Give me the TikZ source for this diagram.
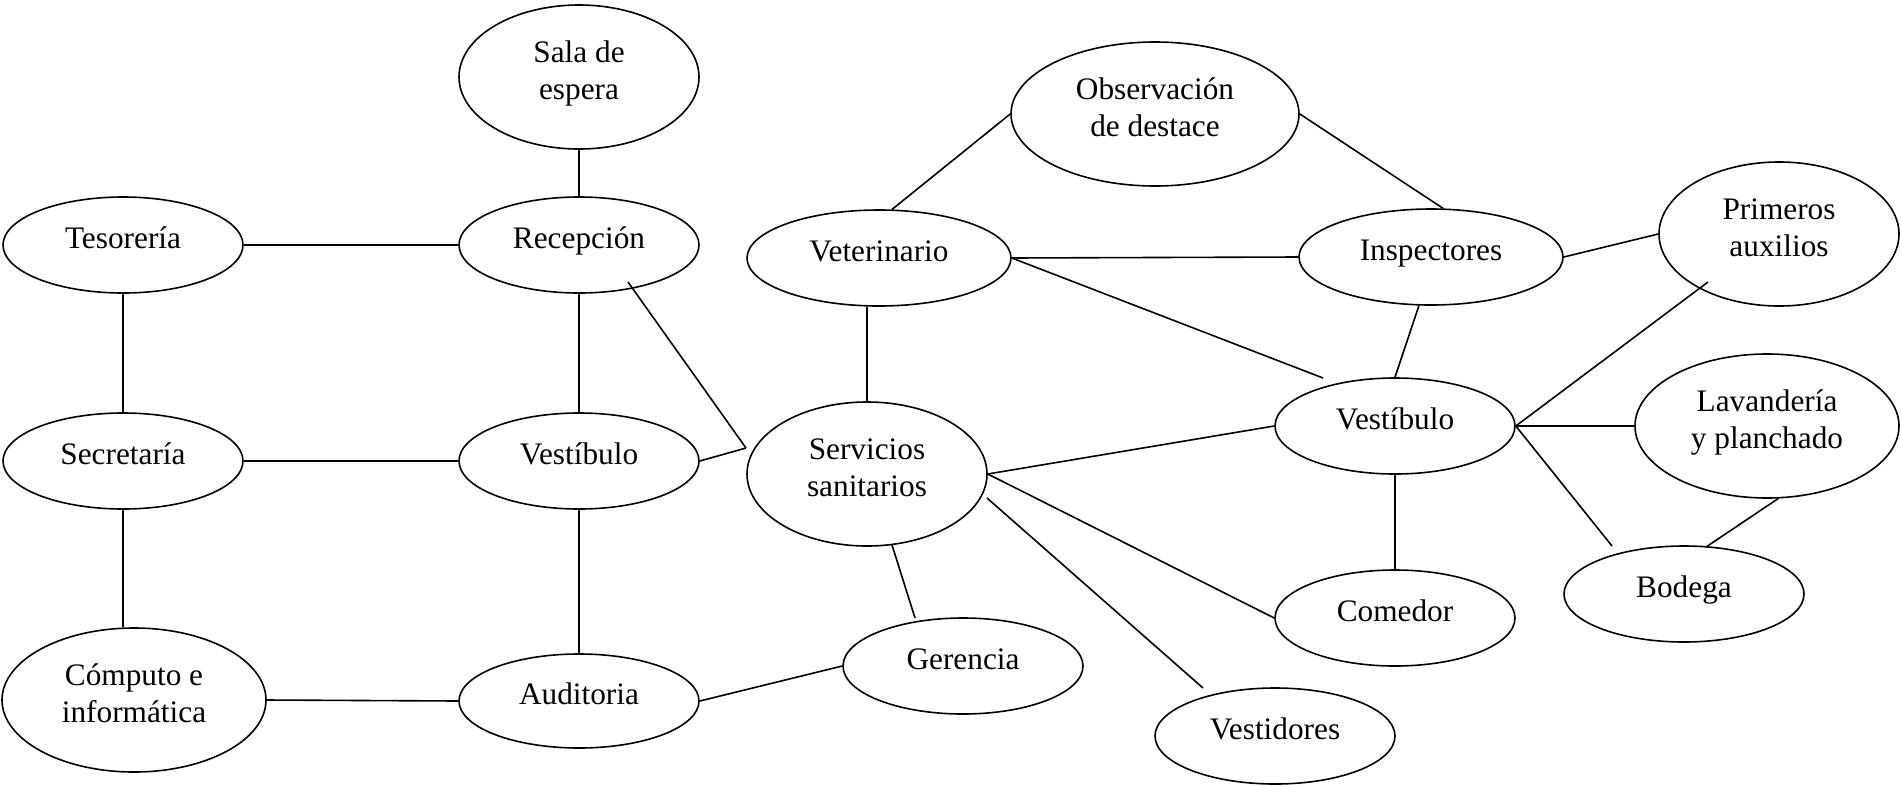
\documentclass[tikz,border=0pt]{standalone}
\usepackage{fontspec}
\setmainfont{Liberation Serif}
\usetikzlibrary{shapes.geometric,calc}
\newcommand\twol[2]{\vtop{\halign{\hfil##\hfil\cr#1\cr#2\cr}}}
\begin{document}
\begin{tikzpicture}[x=1pt,y=-1pt,
  el/.style={draw, ellipse, line width=1.6pt, inner sep=0pt,
    font=\fontsize{31.3}{36.5}\selectfont},
  one/.style={el, text height=15.6pt, text depth=7.8pt, minimum width=240pt, minimum height=96pt},
  two/.style={el, text height=15.6pt, text depth=44.6pt, minimum width=240pt, minimum height=144pt},
  con/.style={line width=1.6pt}]
\useasboundingbox (0,0) rectangle (1901,785);

\node[two] (sala) at (579,77) {\twol{Sala de}{espera}};
\node[one] (teso) at (123,245) {Tesorería};
\node[one] (recep) at (579,245) {Recepción};
\node[one] (secre) at (123,461) {Secretaría};
\node[one] (vestL) at (579,461) {Vestíbulo};
\node[two, minimum width=264pt] (compu) at (134,700) {\twol{Cómputo e}{informática}};
\node[one, minimum height=94pt] (audit) at (579,701) {Auditoria};
\node[one] (geren) at (963,666) {Gerencia};
\node[two] (serv) at (867,474) {\twol{Servicios}{sanitarios}};
\node[one, minimum width=264pt] (vet) at (879,258) {Veterinario};
\node[two, minimum width=288pt] (obs) at (1155,114) {\twol{Observación}{de destace}};
\node[one, minimum width=264pt] (insp) at (1431,257) {Inspectores};
\node[two] (prim) at (1779,234) {\twol{Primeros}{auxilios}};
\node[one] (vestR) at (1395,426) {Vestíbulo};
\node[two, minimum width=264pt] (lav) at (1767,426) {\twol{Lavandería}{y planchado}};
\node[one] (bod) at (1684,594) {Bodega};
\node[one] (come) at (1395,618) {Comedor};
\node[one] (vesti) at (1275,736) {Vestidores};

\coordinate (j) at (746,448);

\draw[con] (sala.south) -- (recep.north);
\draw[con] (teso.east) -- (recep.west);
\draw[con] (teso.south) -- (secre.north);
\draw[con] (secre.east) -- (vestL.west);
\draw[con] (recep.south) -- (vestL.north);
\draw[con] (secre.south) -- (secre.south |- compu.north);
\draw[con] (vestL.south) -- (audit.north);
\draw[con] (compu.east) -- (audit.west);
\draw[con] (audit.east) -- (geren.west);
\draw[con] ($(recep.center)+(49,37)$) -- (j);
\draw[con] (vestL.east) -- (j);
\draw[con] (serv.north) -- (serv.north |- vet.south);
\draw[con] (vet.75) -- (obs.west);
\draw[con] (obs.east) -- (insp.76);
\draw[con] (vet.east) -- (insp.west);
\draw[con] (vet.east) -- ($(vestR.center)+(-72,-48)$);
\draw[con] (insp.-104) -- (vestR.north);
\draw[con] (insp.east) -- (prim.west);
\draw[con] (vestR.east) -- ($(prim.center)+(-71,48)$);
\draw[con] (vestR.east) -- (lav.west);
\draw[con] (vestR.east) -- ($(bod.center)+(-72,-48)$);
\draw[con] ($(bod.center)+(22,-47)$) -- ($(lav.center)+(12,72)$);
\draw[con] (vestR.south) -- (come.north);
\draw[con] (serv.east) -- (vestR.west);
\draw[con] (serv.east) -- (come.west);
\draw[con] ($(serv.center)+(120,24)$) -- ($(vesti.center)+(-72,-48)$);
\draw[con] ($(serv.center)+(25,71)$) -- ($(geren.center)+(-48,-48)$);
\end{tikzpicture}
\end{document}
